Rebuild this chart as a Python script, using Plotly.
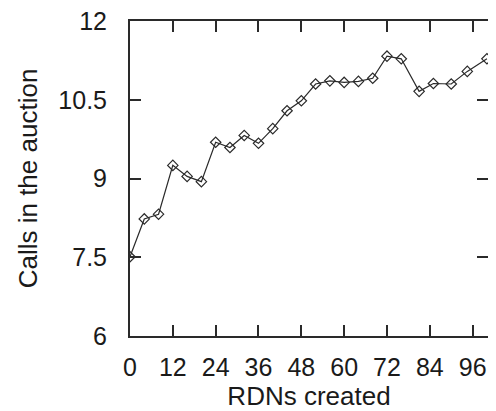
import plotly.graph_objects as go

rdns_created = [0, 4, 8, 12, 16, 20, 24, 28, 32, 36, 40, 44, 48, 52, 56, 60, 64, 68, 72, 76, 81, 85, 90, 94.5, 100]
calls_in_auction = [7.51, 8.23, 8.32, 9.25, 9.04, 8.94, 9.69, 9.59, 9.82, 9.67, 9.95, 10.29, 10.48, 10.80, 10.86, 10.83, 10.85, 10.91, 11.33, 11.28, 10.66, 10.81, 10.80, 11.04, 11.28]

x_ticks = [0, 12, 24, 36, 48, 60, 72, 84, 96]
y_ticks = [6, 7.5, 9, 10.5, 12]
y_tick_labels = ["6", "7.5", "9", "10.5", "12"]

ink = "#2a2a2a"
font = dict(family="Liberation Sans, Arial, sans-serif", size=25, color="#1a1a1a")
title_font = dict(family="Liberation Sans, Arial, sans-serif", size=26, color="#1a1a1a")

fig = go.Figure()
fig.add_trace(go.Scatter(
    x=rdns_created, y=calls_in_auction,
    mode="lines+markers",
    line=dict(color=ink, width=1.2),
    marker=dict(symbol="diamond-open", size=8, color=ink, line=dict(width=1.2, color=ink)),
    showlegend=False,
))

axis_common = dict(
    showgrid=False, zeroline=False, showline=True, linecolor=ink, linewidth=2,
    mirror="ticks", ticks="inside", ticklen=11, tickwidth=2, tickcolor=ink,
    tickfont=font, automargin=False, ticklabeloverflow="allow",
)

# page body has an 8px margin, so the figure is sized to fit the 496x411 window
fig.update_layout(
    width=488, height=403,
    margin=dict(l=122, r=8, t=13, b=75),
    paper_bgcolor="white", plot_bgcolor="white",
    font=font,
    xaxis=dict(range=[0, 100.3], tickvals=x_ticks, ticktext=[str(v) for v in x_ticks],
               ticklabelstandoff=8,
               title=dict(text="RDNs created", font=title_font, standoff=8), **axis_common),
    yaxis=dict(range=[6, 12], tickvals=y_ticks, ticktext=y_tick_labels,
               ticklabelstandoff=16,
               title=dict(text="Calls in the auction", font=title_font, standoff=13), **axis_common),
)

fig.write_html("out.html")
